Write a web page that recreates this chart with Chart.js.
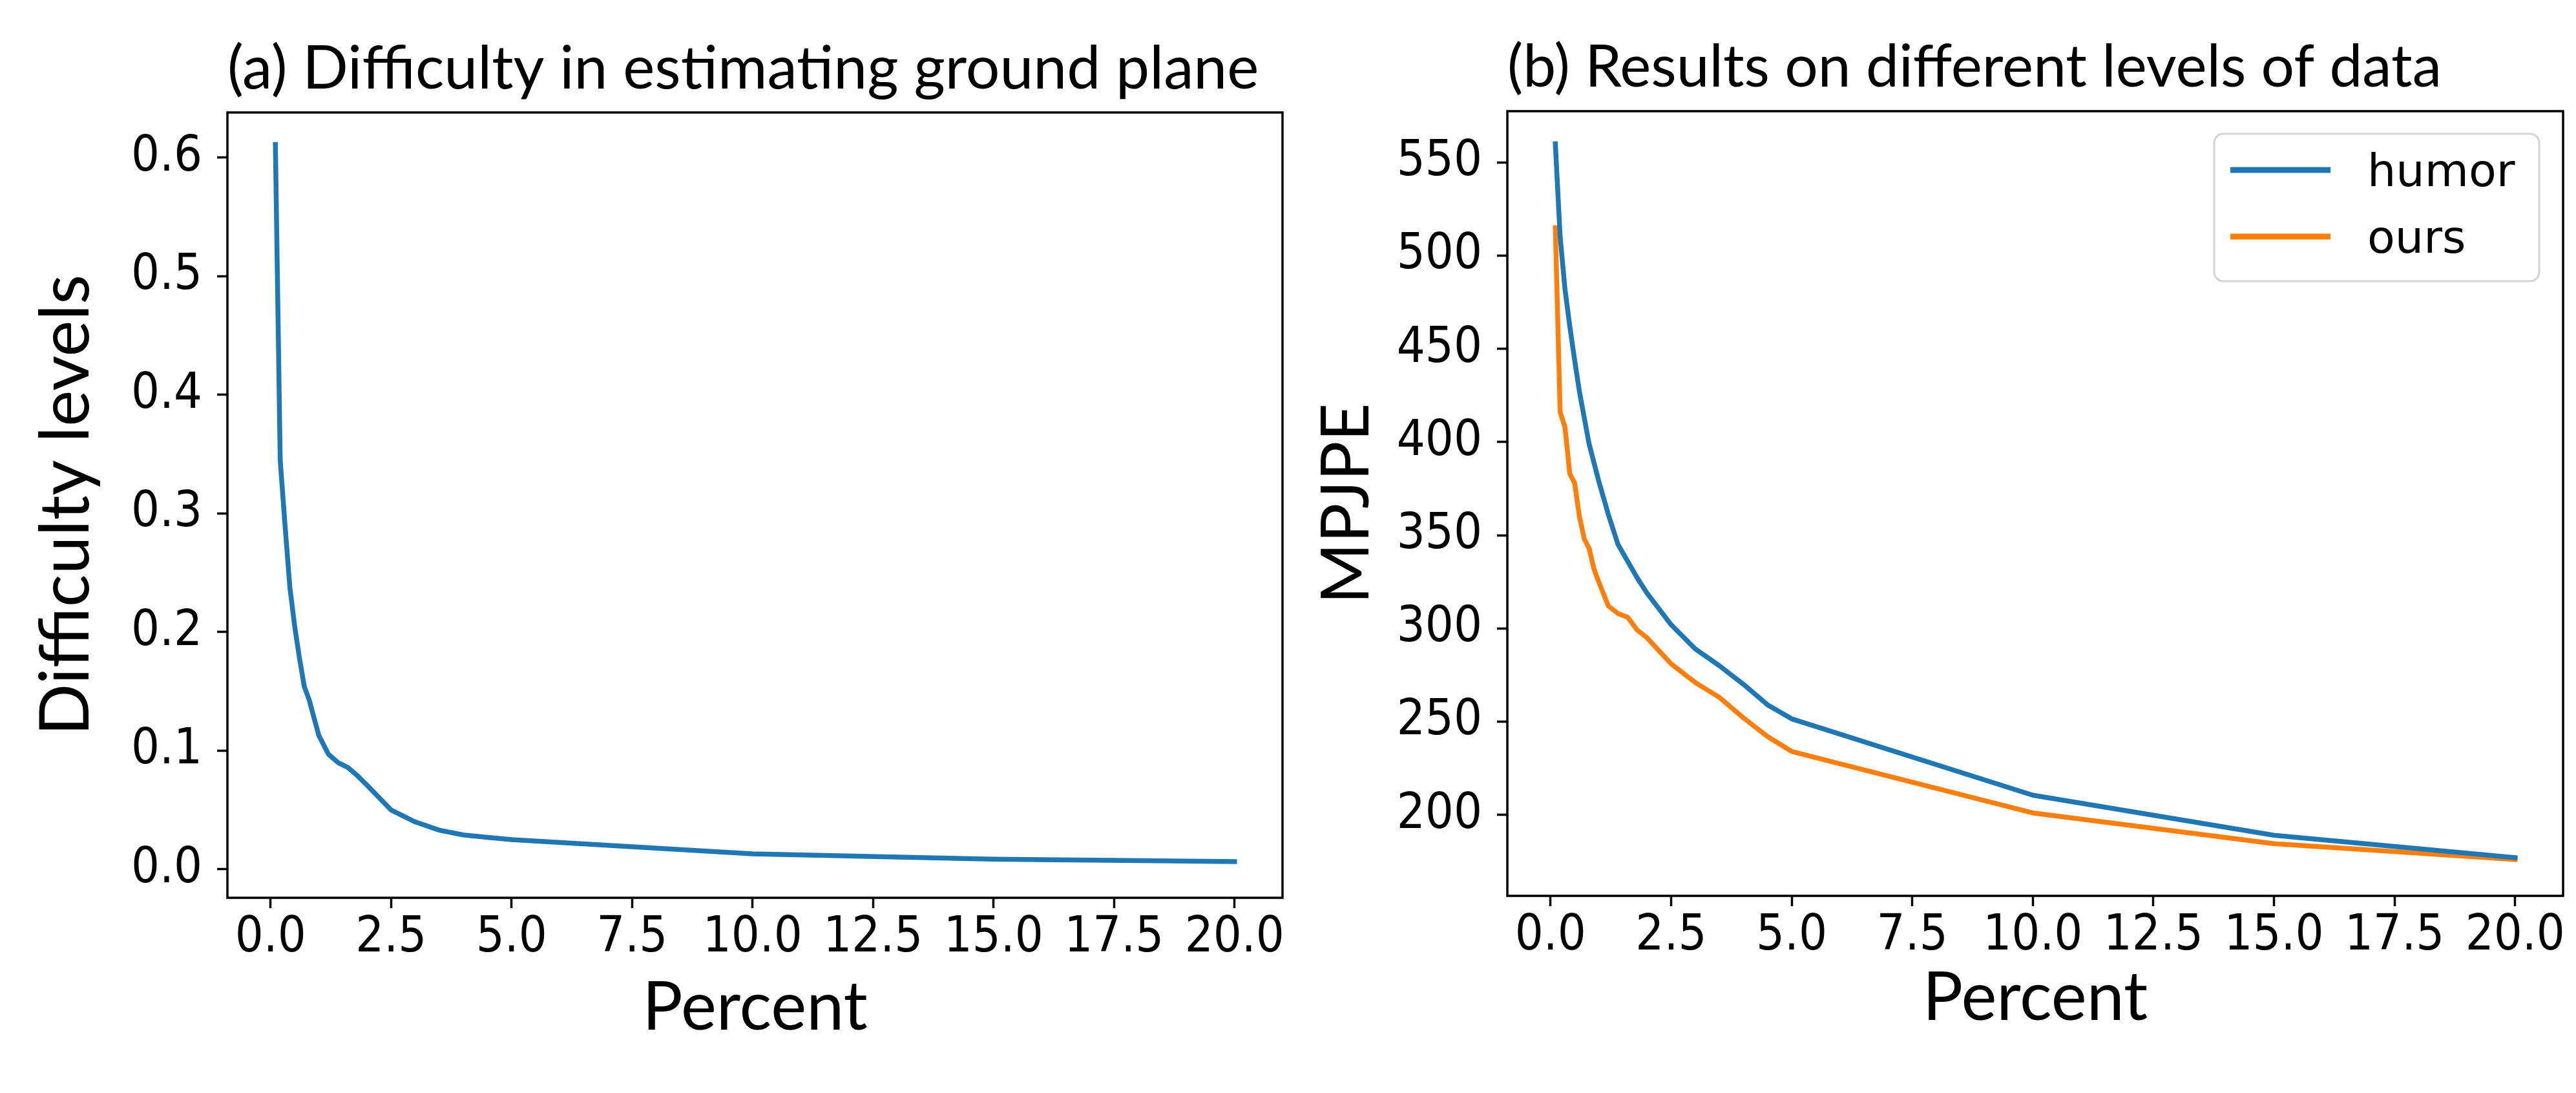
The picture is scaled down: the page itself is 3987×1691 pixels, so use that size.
<!DOCTYPE html>
<html>
<head>
<meta charset="utf-8">
<script src="https://cdn.jsdelivr.net/npm/chart.js@4.4.1/dist/chart.umd.min.js"></script>
<style>
  body { margin: 0; background: #fff; }
  #wrap { position: relative; width: 3987px; height: 1691px; background: #fff; }
  canvas { position: absolute; top: 0; }
  #chartA { left: 0; }
  #chartB { left: 2000px; }
</style>
</head>
<body>
<div id="wrap">
  <canvas id="chartA" width="2000" height="1691"></canvas>
  <canvas id="chartB" width="1987" height="1691"></canvas>
</div>
<script>
// x positions (percent of data) shared by every curve
const percent = [0.1, 0.2, 0.3, 0.4, 0.5, 0.6, 0.7, 0.8, 0.9, 1.0, 1.2, 1.4, 1.6, 1.8, 2.0,
                 2.5, 3.0, 3.5, 4.0, 4.5, 5.0, 10, 15, 20];

// (a) difficulty of ground plane estimation
const difficulty = [0.611, 0.345, 0.290, 0.238, 0.205, 0.178, 0.154, 0.143, 0.128, 0.113, 0.097, 0.090,
                    0.086, 0.079, 0.071, 0.050, 0.040, 0.033, 0.029, 0.027, 0.025, 0.013, 0.0085, 0.0065];

// (b) MPJPE per method
const humor = [560, 510, 482, 462, 444, 427, 413, 399, 389, 379, 361, 345, 336, 327, 319,
               302, 289, 280, 270, 259, 251.5, 210.5, 189, 177];
const ours = [515, 416, 408, 383, 378, 360, 348, 343, 332, 325, 312, 308, 306, 299, 295,
              281, 271, 263, 252, 242, 234, 201, 184.5, 176];

const percentTicks = [0, 2.5, 5, 7.5, 10, 12.5, 15, 17.5, 20];
const difficultyTicks = [0, 0.1, 0.2, 0.3, 0.4, 0.5, 0.6];
const mpjpeTicks = [200, 250, 300, 350, 400, 450, 500, 550];

const BLUE = '#1f77b4';
const ORANGE = '#ff7f0e';

const toPoints = ys => percent.map((x, i) => ({ x: x, y: ys[i] }));

// black box around the plot area, like matplotlib spines
const framePlugin = {
  id: 'frame',
  afterDraw(chart) {
    const { ctx, chartArea: a } = chart;
    ctx.save();
    ctx.strokeStyle = '#000';
    ctx.lineWidth = 3.5;
    ctx.strokeRect(a.left, a.top, a.right - a.left, a.bottom - a.top);
    ctx.restore();
  }
};

// framed legend in the upper right corner of the plot
const legendBoxPlugin = {
  id: 'legendBox',
  afterDraw(chart, args, opts) {
    if (!opts.show) return;
    const { ctx, chartArea: a } = chart;
    const w = 503, h = 228;
    const x = a.right - 37 - w, y = a.top + 35;
    ctx.save();
    ctx.fillStyle = 'rgba(255,255,255,0.8)';
    ctx.strokeStyle = '#d4d4d4';
    ctx.lineWidth = 3;
    ctx.beginPath();
    ctx.roundRect(x, y, w, h, 14);
    ctx.fill();
    ctx.stroke();
    ctx.font = '70px "DejaVu Sans"';
    ctx.textBaseline = 'alphabetic';
    chart.data.datasets.forEach((ds, i) => {
      const ly = y + 56 + i * 103;
      ctx.strokeStyle = ds.borderColor;
      ctx.lineWidth = 9;
      ctx.lineCap = 'butt';
      ctx.beginPath();
      ctx.moveTo(x + 25, ly);
      ctx.lineTo(x + 180, ly);
      ctx.stroke();
      ctx.fillStyle = '#000';
      ctx.fillText(ds.label, x + 237, ly + 25);
    });
    ctx.restore();
  }
};

function makeChart(id, cfg) {
  const tickFont = { family: '"DejaVu Sans Condensed", "DejaVu Sans"', size: 77 };
  const grid = {
    display: true,
    drawOnChartArea: false,
    drawTicks: true,
    tickLength: 16,
    tickWidth: 3.5,
    tickColor: '#000'
  };
  return new Chart(document.getElementById(id), {
    type: 'line',
    data: {
      datasets: cfg.series.map(s => ({
        label: s.label,
        data: toPoints(s.values),
        borderColor: s.color,
        borderWidth: 7.5,
        borderCapStyle: 'square',
        borderJoinStyle: 'round',
        pointRadius: 0,
        tension: 0,
        fill: false
      }))
    },
    options: {
      responsive: false,
      animation: false,
      layout: { padding: { left: 0, right: cfg.rightPad, top: 0, bottom: 0 } },
      plugins: {
        legend: { display: false },
        tooltip: { enabled: false },
        legendBox: { show: cfg.legend },
        title: {
          display: true,
          text: cfg.title,
          fullSize: false,
          align: 'start',
          color: '#000',
          font: { family: 'Lato', size: cfg.titleSize, weight: 'normal', lineHeight: 1 },
          padding: { top: cfg.titleTop, bottom: cfg.titleBottom }
        }
      },
      scales: {
        x: {
          type: 'linear',
          min: -0.895,
          max: 20.995,
          border: { display: false },
          grid: grid,
          afterBuildTicks: s => { s.ticks = percentTicks.map(v => ({ value: v })); },
          afterFit: s => { s.height = cfg.xAxisHeight; },
          ticks: {
            color: '#000',
            font: tickFont,
            padding: 1,
            maxRotation: 0,
            autoSkip: false,
            callback: v => v.toFixed(1)
          },
          title: {
            display: true,
            text: 'Percent',
            color: '#000',
            font: { family: 'Lato', size: 104, lineHeight: 1 },
            padding: { top: 0, bottom: cfg.xTitleBottom }
          }
        },
        y: {
          type: 'linear',
          min: cfg.yMin,
          max: cfg.yMax,
          border: { display: false },
          grid: grid,
          afterBuildTicks: s => { s.ticks = cfg.yTicks.map(v => ({ value: v })); },
          afterFit: s => { s.width = cfg.yAxisWidth; },
          ticks: {
            color: '#000',
            font: tickFont,
            padding: 23,
            autoSkip: false,
            callback: v => v.toFixed(cfg.yDecimals)
          },
          title: {
            display: true,
            text: cfg.yLabel,
            color: '#000',
            font: { family: 'Lato', size: cfg.yLabelSize, lineHeight: 1 },
            padding: { top: cfg.yTitleLeft, bottom: 0 }
          }
        }
      }
    },
    plugins: [framePlugin, legendBoxPlugin]
  });
}

makeChart('chartA', {
  title: '(a) Difficulty in estimating ground plane',
  titleSize: 93,
  series: [{ label: 'difficulty', values: difficulty, color: BLUE }],
  legend: false,
  yTicks: difficultyTicks,
  yDecimals: 1,
  yMin: -0.024,
  yMax: 0.638,
  yLabel: 'Difficulty levels',
  yLabelSize: 106,
  yAxisWidth: 352,
  xAxisHeight: 302,
  rightPad: 15,
  titleTop: 60,
  titleBottom: 21,
  xTitleBottom: 80,
  yTitleLeft: 50
});

makeChart('chartB', {
  title: '(b) Results on different levels of data',
  titleSize: 91,
  series: [
    { label: 'humor', values: humor, color: BLUE },
    { label: 'ours', values: ours, color: ORANGE }
  ],
  legend: true,
  yTicks: mpjpeTicks,
  yDecimals: 0,
  yMin: 156.5,
  yMax: 577.5,
  yLabel: 'MPJPE',
  yLabelSize: 102,
  yAxisWidth: 333,
  xAxisHeight: 305,
  rightPad: 20,
  titleTop: 59,
  titleBottom: 22,
  xTitleBottom: 95,
  yTitleLeft: 34
});
</script>
</body>
</html>
